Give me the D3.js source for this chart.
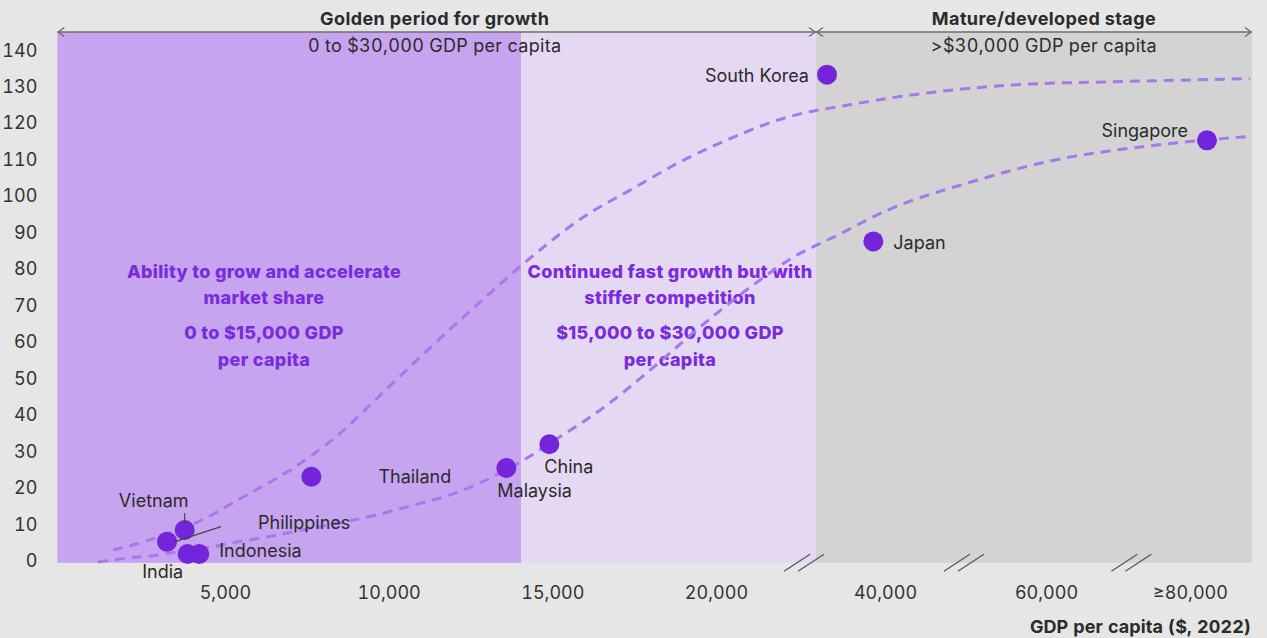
<!DOCTYPE html>
<html>
<head>
<meta charset="utf-8">
<script src="https://cdn.jsdelivr.net/npm/d3@7"></script>
<style>
  html, body { margin: 0; padding: 0; background: #e6e6e6; }
  svg { display: block; font-family: Inter, "Noto Sans", sans-serif; }
  .num { font-feature-settings: "tnum"; }
</style>
</head>
<body>
<svg id="chart" width="1267" height="638"></svg>
<script>
// ---- Data -------------------------------------------------------------
const countries    = ["South Korea", "Singapore", "Japan", "China", "Malaysia", "Thailand", "Vietnam", "Philippines", "Indonesia", "India"];
const gdpPerCapita = [32795, 80000, 38550, 14910, 13595, 7640, 3770, 3230, 4215, 3860];
const marketValue  = [133.3, 115.3, 87.6, 32.0, 25.5, 23.1, 8.5, 5.3, 1.9, 1.9];

// Upper trend curve (GDP per capita, value)
const upperCurveGdp = [1580, 2500, 4240, 5610, 6990, 8515, 9645, 11080, 12610, 14135, 15940, 17465, 18995, 20520, 22050, 23056, 32800, 41860, 56770, 69190, 85340];
const upperCurveVal = [3.0, 5.2, 11.0, 17.8, 24.9, 35.0, 44.6, 56.9, 69.5, 81.6, 94.2, 102.1, 109.8, 116.1, 121.3, 123.5, 124.0, 127.3, 130.6, 131.4, 132.2];

// Lower trend curve (GDP per capita, value)
const lowerCurveGdp = [1120, 2010, 2920, 3840, 4450, 5370, 6285, 7200, 8910, 9830, 10870, 11875, 12790, 13590, 14135, 14930, 16455, 17985, 19510, 21040, 22565, 23056, 33540, 40250, 50560, 60870, 73290, 85340];
const lowerCurveVal = [-0.3, 0.8, 1.6, 2.9, 3.6, 5.2, 6.6, 8.2, 11.2, 13.1, 15.6, 18.1, 21.4, 25.0, 27.7, 32.3, 41.3, 52.3, 64.1, 75.0, 84.3, 86.5, 88.7, 96.1, 103.8, 109.8, 113.9, 116.4];

// Stage bands along the GDP axis
const stageStart = [-122, 14044, 31429];
const stageEnd   = [14044, 23056, 85590];

// Axis ticks
const yTicks = [0, 10, 20, 30, 40, 50, 60, 70, 80, 90, 100, 110, 120, 130, 140];
const xTicks = [5000, 10000, 15000, 20000, 40000, 60000, 80000];
const xTickLabels = ["5,000", "10,000", "15,000", "20,000", "40,000", "60,000", "≥80,000"];
const axisBreaks = [22690, 49800, 70600];

// ---- Styling ----------------------------------------------------------
const stageFill = ["#c6a4ef", "#e5d8f2", "#d3d3d3"];
const dotColor = "#7424da";
const curveColor = "#a877ee";
const noteColor = "#7a2bdd";
const textColor = "#2b2b2b";

const labelPlacement = {
  "South Korea": { dx: -18, dy: 1,   anchor: "end" },
  "Singapore":   { dx: -19, dy: -10, anchor: "end" },
  "Japan":       { dx: 20,  dy: 1,   anchor: "start" },
  "China":       { dx: -5,  dy: 22,  anchor: "start" },
  "Malaysia":    { dx: -9,  dy: 23,  anchor: "start" },
  "Thailand":    { dx: 67,  dy: 0,   anchor: "start" },
  "Vietnam":     { dx: -31, dy: -29, anchor: "middle", leader: [[0, -17], [0, -7]] },
  "Philippines": { dx: 91,  dy: -19, anchor: "start",  leader: [[54, -15], [8, 0]] },
  "Indonesia":   { dx: 20,  dy: -3,  anchor: "start" },
  "India":       { dx: -25, dy: 18,  anchor: "middle" }
};

// ---- Scales -----------------------------------------------------------
// Broken GDP axis: linear up to the first break, compressed beyond it.
const x = d3.scaleLinear()
  .domain([-122, 23056, 31429, 85590])
  .range([57.3, 816, 816, 1252]);
const y = d3.scaleLinear().domain([-0.5, 145]).range([562.8, 32]);

const svg = d3.select("#chart");

svg.append("rect").attr("width", 1267).attr("height", 638).attr("fill", "#e6e6e6");

// Stage bands
svg.append("g").selectAll("rect")
  .data(stageStart.map((s, i) => ({ s, e: stageEnd[i], fill: stageFill[i] })))
  .join("rect")
  .attr("x", d => x(d.s))
  .attr("width", d => x(d.e) - x(d.s))
  .attr("y", y(145))
  .attr("height", y(-0.5) - y(145))
  .attr("fill", d => d.fill);

// Stage arrows across the top
const arrowY = y(145);
const arrowG = svg.append("g").attr("stroke", "#6e6e6e").attr("stroke-width", 1.4).attr("fill", "none");
function stageArrow(x0, x1) {
  arrowG.append("line").attr("x1", x0).attr("x2", x1).attr("y1", arrowY).attr("y2", arrowY);
  arrowG.append("path").attr("d", `M${x0 + 7},${arrowY - 4.5}L${x0 + 1},${arrowY}L${x0 + 7},${arrowY + 4.5}`);
  arrowG.append("path").attr("d", `M${x1 - 7},${arrowY - 4.5}L${x1 - 1},${arrowY}L${x1 - 7},${arrowY + 4.5}`);
}
stageArrow(x(-122), x(23056));
stageArrow(x(31429), x(85590));

const titleG = svg.append("g").attr("text-anchor", "middle").attr("fill", textColor);
const leftMid = (x(-122) + x(23056)) / 2 - 2;
titleG.append("text").attr("x", leftMid).attr("y", 25).attr("font-size", 18).attr("font-weight", 700)
  .attr("letter-spacing", 0.4).text("Golden period for growth");
titleG.append("text").attr("x", leftMid).attr("y", 52).attr("class", "num").attr("font-size", 18)
  .attr("letter-spacing", 0.3).text("0 to $30,000 GDP per capita");
titleG.append("text").attr("x", x(60000) - 2).attr("y", 25).attr("font-size", 18).attr("font-weight", 700)
  .attr("letter-spacing", 0.4).text("Mature/developed stage");
titleG.append("text").attr("x", x(60000) - 2).attr("y", 52).attr("class", "num").attr("font-size", 18)
  .attr("letter-spacing", 0.3).text(">$30,000 GDP per capita");

// Stage notes
const noteG = svg.append("g").attr("text-anchor", "middle").attr("fill", noteColor)
  .attr("font-size", 18).attr("font-weight", 800).attr("letter-spacing", 0.3);
const leftNote = ["Ability to grow and accelerate", "market share", "0 to $15,000 GDP", "per capita"];
const rightNote = ["Continued fast growth but with", "stiffer competition", "$15,000 to $30,000 GDP", "per capita"];
const noteY = [278, 304, 339, 366];
leftNote.forEach((t, i) => noteG.append("text").attr("x", 264).attr("y", noteY[i]).text(t));
rightNote.forEach((t, i) => noteG.append("text").attr("x", 670).attr("y", noteY[i]).text(t));

// Trend curves
const line = d3.line().x(d => x(d[0])).y(d => y(d[1])).curve(d3.curveMonotoneX);
const curveG = svg.append("g").attr("fill", "none").attr("stroke", curveColor)
  .attr("stroke-width", 3).attr("stroke-dasharray", "10,7");
curveG.append("path").attr("d", line(upperCurveGdp.map((g, i) => [g, upperCurveVal[i]])));
curveG.append("path").attr("d", line(lowerCurveGdp.map((g, i) => [g, lowerCurveVal[i]])));

// Y axis
const yAxis = svg.append("g").attr("transform", `translate(${x(-122)},0)`)
  .call(d3.axisLeft(y).tickValues(yTicks).tickSize(0).tickPadding(20));
yAxis.select(".domain").remove();
yAxis.selectAll("text").attr("class", "num").attr("font-size", 18).attr("font-family", "Inter, sans-serif").attr("fill", "#333");

// X axis
const xAxis = svg.append("g").attr("transform", `translate(0,${y(-0.5)})`)
  .call(d3.axisBottom(x).tickValues(xTicks).tickSize(0).tickPadding(23)
    .tickFormat((d, i) => xTickLabels[i]));
xAxis.select(".domain").remove();
xAxis.selectAll("text").attr("class", "num").attr("font-size", 18).attr("font-family", "Inter, sans-serif").attr("fill", "#333")
  .filter(d => d === 80000).attr("dx", -17);

// Axis break marks
const breakG = svg.append("g").attr("stroke", "#555").attr("stroke-width", 1.2);
axisBreaks.forEach(b => {
  const bx = x(b), by = y(-0.5);
  [-7, 7].forEach(o => {
    breakG.append("line")
      .attr("x1", bx + o - 13).attr("y1", by + 8.5)
      .attr("x2", bx + o + 13).attr("y2", by - 8.5);
  });
});

svg.append("text").attr("x", 1251).attr("y", 633).attr("text-anchor", "end").attr("class", "num")
  .attr("font-size", 18).attr("font-weight", 700).attr("letter-spacing", 0.1).attr("fill", textColor)
  .text("GDP per capita ($, 2022)");

// Countries
const pts = countries.map((c, i) => ({ c, px: x(gdpPerCapita[i]), py: y(marketValue[i]) }));

const leaderG = svg.append("g").attr("stroke", "#444").attr("stroke-width", 1.2);
pts.forEach(p => {
  const L = labelPlacement[p.c];
  if (L.leader) {
    leaderG.append("line")
      .attr("x1", p.px + L.leader[0][0]).attr("y1", p.py + L.leader[0][1])
      .attr("x2", p.px + L.leader[1][0]).attr("y2", p.py + L.leader[1][1]);
  }
});

svg.append("g").selectAll("circle").data(pts).join("circle")
  .attr("cx", d => d.px).attr("cy", d => d.py).attr("r", 10).attr("fill", dotColor);

// Philippines leader is drawn over the neighbouring dot
leaderG.raise();

svg.append("g").selectAll("text").data(pts).join("text")
  .attr("x", d => d.px + labelPlacement[d.c].dx)
  .attr("y", d => d.py + labelPlacement[d.c].dy)
  .attr("dy", "0.35em")
  .attr("text-anchor", d => labelPlacement[d.c].anchor)
  .attr("font-size", 18).attr("fill", textColor)
  .text(d => d.c);
</script>
</body>
</html>
